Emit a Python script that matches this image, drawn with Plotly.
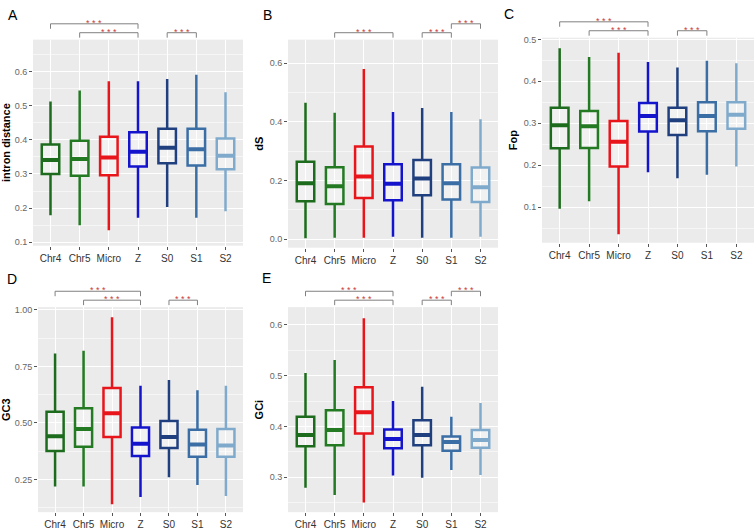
import plotly.graph_objects as go

W, H = 756, 532

categories = ["Chr4", "Chr5", "Micro", "Z", "S0", "S1", "S2"]
box_colors = ["#1d6b1d", "#237a23", "#e8151b", "#1414cc", "#1f3f7f", "#3a6ea5", "#80aacb"]

# ---- Panel A: intron distance ----
A_low = [0.179, 0.150, 0.135, 0.172, 0.203, 0.172, 0.191]
A_q1 = [0.300, 0.295, 0.296, 0.322, 0.331, 0.325, 0.314]
A_med = [0.341, 0.344, 0.348, 0.365, 0.377, 0.372, 0.353]
A_q3 = [0.386, 0.397, 0.409, 0.422, 0.432, 0.432, 0.404]
A_high = [0.512, 0.544, 0.571, 0.571, 0.578, 0.590, 0.539]
A_ticks = [0.1, 0.2, 0.3, 0.4, 0.5, 0.6]

# ---- Panel B: dS ----
B_low = [0.003, 0.005, 0.005, 0.008, 0.005, 0.005, 0.008]
B_q1 = [0.129, 0.120, 0.140, 0.133, 0.150, 0.135, 0.127]
B_med = [0.191, 0.180, 0.214, 0.189, 0.207, 0.191, 0.177]
B_q3 = [0.264, 0.245, 0.316, 0.255, 0.270, 0.255, 0.244]
B_high = [0.465, 0.431, 0.580, 0.433, 0.447, 0.433, 0.409]
B_ticks = [0.0, 0.2, 0.4, 0.6]

# ---- Panel C: Fop ----
C_low = [0.096, 0.114, 0.035, 0.183, 0.169, 0.177, 0.197]
C_q1 = [0.240, 0.241, 0.197, 0.280, 0.272, 0.281, 0.287]
C_med = [0.295, 0.293, 0.256, 0.317, 0.307, 0.317, 0.320]
C_q3 = [0.337, 0.329, 0.305, 0.348, 0.337, 0.350, 0.350]
C_high = [0.479, 0.458, 0.468, 0.446, 0.433, 0.449, 0.443]
C_ticks = [0.1, 0.2, 0.3, 0.4, 0.5]

# ---- Panel D: GC3 ----
D_low = [0.219, 0.219, 0.141, 0.173, 0.260, 0.226, 0.177]
D_q1 = [0.376, 0.395, 0.438, 0.354, 0.390, 0.351, 0.351]
D_med = [0.441, 0.473, 0.543, 0.408, 0.438, 0.405, 0.400]
D_q3 = [0.550, 0.565, 0.655, 0.480, 0.509, 0.470, 0.473]
D_high = [0.807, 0.819, 0.967, 0.665, 0.690, 0.645, 0.665]
D_ticks = [0.25, 0.50, 0.75, 1.00]

# ---- Panel E: GCi ----
E_low = [0.279, 0.265, 0.250, 0.303, 0.299, 0.314, 0.304]
E_q1 = [0.361, 0.363, 0.386, 0.357, 0.363, 0.352, 0.358]
E_med = [0.383, 0.393, 0.428, 0.375, 0.383, 0.369, 0.373]
E_q3 = [0.419, 0.432, 0.477, 0.394, 0.412, 0.380, 0.393]
E_high = [0.505, 0.531, 0.613, 0.450, 0.478, 0.419, 0.446]
E_ticks = [0.3, 0.4, 0.5, 0.6]

# significance brackets: (from, to, level) ; level 1 = upper, 0 = lower
A_sig = [("Chr4", "Z", 1), ("Chr5", "Z", 0), ("S0", "S1", 0)]
B_sig = [("Chr5", "Z", 0), ("S0", "S1", 0), ("S1", "S2", 1)]
C_sig = [("Chr4", "Z", 1), ("Chr5", "Z", 0), ("S0", "S1", 0)]
D_sig = [("Chr4", "Z", 1), ("Chr5", "Z", 0), ("S0", "S1", 0)]
E_sig = [("Chr4", "Z", 1), ("Chr5", "Z", 0), ("S0", "S1", 0), ("S1", "S2", 1)]

panels = [
    dict(letter="A", title="intron distance", low=A_low, q1=A_q1, med=A_med, q3=A_q3, high=A_high,
         ticks=A_ticks, fmt=".1f", yr=[0.090, 0.693], minor=0.05, box=(33, 243, 37, 245),
         lab=(13, 12), sig=A_sig),
    dict(letter="B", title="dS", low=B_low, q1=B_q1, med=B_med, q3=B_q3, high=B_high,
         ticks=B_ticks, fmt=".1f", yr=[-0.029, 0.680], minor=0.1, box=(288, 498, 37, 247),
         lab=(267, 12), sig=B_sig),
    dict(letter="C", title="Fop", low=C_low, q1=C_q1, med=C_med, q3=C_q3, high=C_high,
         ticks=C_ticks, fmt=".1f", yr=[0.015, 0.504], minor=0.05, box=(542, 754, 35, 242),
         lab=(509, 11), sig=C_sig),
    dict(letter="D", title="GC3", low=D_low, q1=D_q1, med=D_med, q3=D_q3, high=D_high,
         ticks=D_ticks, fmt=".2f", yr=[0.106, 1.012], minor=0.125, box=(38, 243, 307, 514),
         lab=(12, 279), sig=D_sig),
    dict(letter="E", title="GCi", low=E_low, q1=E_q1, med=E_med, q3=E_q3, high=E_high,
         ticks=E_ticks, fmt=".1f", yr=[0.231, 0.635], minor=0.05, box=(288, 498, 307, 514),
         lab=(266, 278), sig=E_sig),
]

FONT = "Liberation Sans, Arial, sans-serif"
fig = go.Figure()
layout = dict(width=W, height=H, margin=dict(l=0, r=0, t=0, b=0),
              paper_bgcolor="white", plot_bgcolor="#EBEBEB", boxmode="overlay",
              showlegend=False, font=dict(family=FONT))
shapes, annotations = [], []

def px(x):
    return x / W

def py(y):
    return 1 - y / H

for i, p in enumerate(panels, start=1):
    sfx = "" if i == 1 else str(i)
    xa, ya = "x" + sfx, "y" + sfx
    x0, x1, y0, y1 = p["box"]
    layout["xaxis" + sfx] = dict(
        domain=[px(x0), px(x1)], anchor=ya, type="category",
        categoryorder="array", categoryarray=categories, range=[-0.6, 6.6],
        showgrid=True, gridcolor="white", gridwidth=1, zeroline=False, showline=False,
        ticks="outside", ticklen=3, tickcolor="#555", tickwidth=1,
        tickfont=dict(size=10, color="#333", family=FONT), fixedrange=True)
    layout["yaxis" + sfx] = dict(
        domain=[py(y1), py(y0)], anchor=xa, range=p["yr"],
        tickvals=p["ticks"], tickformat=p["fmt"],
        showgrid=True, gridcolor="white", gridwidth=1, zeroline=False, showline=False,
        minor=dict(dtick=p["minor"], showgrid=True, gridcolor="#F6F6F6", gridwidth=0.6),
        ticks="outside", ticklen=3, tickcolor="#555", tickwidth=1,
        tickfont=dict(size=9, color="#666", family=FONT),
        title=dict(text="<b>" + p["title"] + "</b>", standoff=3,
                   font=dict(size=11, color="black", family=FONT)),
        fixedrange=True)

    for j, cat in enumerate(categories):
        fig.add_trace(go.Box(
            x=[cat], q1=[p["q1"][j]], median=[p["med"][j]], q3=[p["q3"][j]],
            lowerfence=[p["low"][j]], upperfence=[p["high"][j]],
            xaxis=xa, yaxis=ya, width=0.6, whiskerwidth=0, boxpoints=False,
            line=dict(color=box_colors[j], width=2.5),
            fillcolor="rgba(255,255,255,0.3)", hoverinfo="skip"))
        # thicker median line (ggplot fatten)
        m = p["med"][j]
        fig.add_trace(go.Box(
            x=[cat], q1=[m], median=[m], q3=[m], lowerfence=[m], upperfence=[m],
            xaxis=xa, yaxis=ya, width=0.56, whiskerwidth=0, boxpoints=False,
            line=dict(color=box_colors[j], width=4),
            fillcolor="rgba(0,0,0,0)", hoverinfo="skip"))

    # panel letter
    annotations.append(dict(text=p["letter"], x=px(p["lab"][0]), y=py(p["lab"][1]),
                            xref="paper", yref="paper", showarrow=False,
                            xanchor="center", yanchor="middle",
                            font=dict(size=14, color="black", family=FONT)))

    # significance brackets
    for (a, b, lev) in p["sig"]:
        ia, ib = categories.index(a), categories.index(b)
        ypix = y0 - 7 - 9 * lev
        yb = py(ypix)
        yt = py(ypix + 5)
        for (xx0, yy0, xx1, yy1) in [(ia, yt, ia, yb), (ia, yb, ib, yb), (ib, yb, ib, yt)]:
            shapes.append(dict(type="line", xref=xa, yref="paper",
                               x0=xx0, x1=xx1, y0=yy0, y1=yy1,
                               line=dict(color="#808080", width=1)))
        annotations.append(dict(text="* * *", x=(ia + ib) / 2, y=py(ypix - 1),
                                xref=xa, yref="paper", showarrow=False,
                                xanchor="center", yanchor="middle",
                                font=dict(size=9, color="#cc3b3b", family=FONT)))

layout["shapes"] = shapes
layout["annotations"] = annotations
fig.update_layout(**layout)
fig.write_html("out.html", config={"displayModeBar": False},
               post_script="document.body.style.margin='0';document.body.style.overflow='hidden';")
